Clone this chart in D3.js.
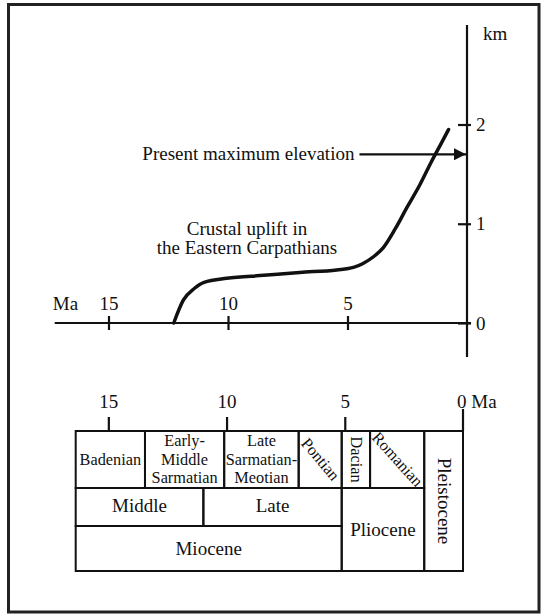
<!DOCTYPE html>
<html>
<head>
<meta charset="utf-8">
<script src="https://cdn.jsdelivr.net/npm/d3@7"></script>
<style>
  body { margin: 0; background: #fff; }
</style>
</head>
<body>
<div id="chart"></div>
<script>
// uplift curve (age in Ma, elevation in km)
var upliftAge  = [12.27, 11.87, 11.4, 11.0, 10.05, 8.5, 7.0, 5.45, 4.75, 4.35, 3.9, 3.5, 3.0, 2.5, 2.0, 1.5, 1.1, 0.77];
var upliftElev = [0.0,   0.23,  0.35, 0.41, 0.45, 0.48, 0.51, 0.535, 0.56, 0.60, 0.67, 0.76, 0.95, 1.17, 1.38, 1.62, 1.80, 1.95];

var ageTicks = [15, 10, 5];
var elevTicks = [0, 1, 2];
var presentMaxElev = 1.7;

// stratigraphic table
var stageNames = [["Badenian"], ["Early-", "Middle", "Sarmatian"], ["Late", "Sarmatian-", "Meotian"], ["Pontian"], ["Dacian"], ["Romanian"]];
var stageStart = [16.38, 13.45, 10.1, 6.95, 5.13, 3.93];
var stageEnd   = [13.45, 10.1, 6.95, 5.13, 3.93, 1.64];
var stageRotate = [0, 0, 0, 50, 90, 48];

var subNames = ["Middle", "Late"];
var subStart = [16.38, 10.98];
var subEnd   = [10.98, 5.13];

var epochNames = ["Miocene", "Pliocene", "Pleistocene"];
var epochStart = [16.38, 5.13, 1.64];
var epochEnd   = [5.13, 1.64, 0];
var epochRowFrom = [2, 1, 0];   // first row the epoch cell occupies
var tableTicks = [15, 10, 5];

var width = 541, height = 614;
var serif = "'Liberation Serif', 'Times New Roman', serif";
var ink = "#111";
var big = 19, small = 16.3;

var svg = d3.select("#chart")
  .append("svg")
    .attr("width", width)
    .attr("height", height);

// frame
svg.append("rect")
  .attr("x", 8.5).attr("y", 4.5)
  .attr("width", 530.5).attr("height", 607.5)
  .attr("fill", "none")
  .attr("stroke", "#222")
  .attr("stroke-width", 3);

// ---------- upper graph ----------
var x = d3.scaleLinear().domain([15, 0]).range([108.5, 467]);
var y = d3.scaleLinear().domain([0, 2]).range([323, 124.5]);

// x axis (ticks cross the line, labels above)
var xAxis = svg.append("g")
  .attr("transform", "translate(0," + y(0) + ")")
  .call(d3.axisTop(x).tickValues(ageTicks).tickSize(7).tickPadding(6).tickFormat(d3.format("d")));
xAxis.select(".domain").remove();
xAxis.append("line")
  .attr("x1", x(17.25)).attr("x2", x(-0.17))
  .attr("stroke", ink).attr("stroke-width", 2.2);
xAxis.selectAll(".tick line")
  .attr("y1", 7).attr("y2", -7)
  .attr("stroke", ink).attr("stroke-width", 2.2);
xAxis.selectAll(".tick text")
  .attr("font-size", big);

svg.append("text")
  .attr("x", x(16.8)).attr("y", y(0) - 13)
  .attr("text-anchor", "middle")
  .attr("font-size", big)
  .text("Ma");

// y axis
var yAxis = svg.append("g")
  .attr("transform", "translate(" + x(0) + ",0)")
  .call(d3.axisRight(y).tickValues(elevTicks).tickSize(4).tickPadding(5).tickFormat(d3.format("d")));
yAxis.select(".domain").remove();
yAxis.append("line")
  .attr("y1", 25).attr("y2", 357)
  .attr("stroke", ink).attr("stroke-width", 2.2);
yAxis.selectAll(".tick line")
  .attr("x1", -9).attr("x2", 4)
  .attr("stroke", ink).attr("stroke-width", 2.2);
yAxis.selectAll(".tick text")
  .attr("font-size", big);

svg.append("text")
  .attr("x", x(0) + 16).attr("y", 40)
  .attr("font-size", big)
  .text("km");

// uplift curve
var pts = upliftAge.map(function(a, i) { return [a, upliftElev[i]]; });
svg.append("path")
  .datum(pts)
  .attr("fill", "none")
  .attr("stroke", ink)
  .attr("stroke-width", 3.5)
  .attr("stroke-linecap", "round")
  .attr("d", d3.line()
    .x(function(d) { return x(d[0]); })
    .y(function(d) { return y(d[1]); })
    .curve(d3.curveMonotoneX));

// present maximum elevation arrow
svg.append("defs").append("marker")
  .attr("id", "arrow")
  .attr("viewBox", "0 0 10 10")
  .attr("refX", 10).attr("refY", 5)
  .attr("markerWidth", 18).attr("markerHeight", 12)
  .attr("markerUnits", "userSpaceOnUse")
  .attr("orient", "auto")
  .append("path")
    .attr("d", "M0,0 L10,5 L0,10 Z")
    .attr("fill", ink);

svg.append("line")
  .attr("x1", x(4.5)).attr("x2", x(0) - 1)
  .attr("y1", y(presentMaxElev)).attr("y2", y(presentMaxElev))
  .attr("stroke", ink).attr("stroke-width", 2.2)
  .attr("marker-end", "url(#arrow)");

svg.append("text")
  .attr("x", x(4.5) - 5).attr("y", y(presentMaxElev) + 5.5)
  .attr("text-anchor", "end")
  .attr("font-size", big)
  .text("Present maximum elevation");

var note = svg.append("text")
  .attr("x", 247).attr("y", 235)
  .attr("text-anchor", "middle")
  .attr("font-size", big);
note.append("tspan").attr("x", 247).text("Crustal uplift in");
note.append("tspan").attr("x", 247).attr("dy", 19).text("the Eastern Carpathians");

// ---------- stratigraphic table ----------
var tx = d3.scaleLinear().domain([16.38, 0]).range([75.7, 463]);
var rowY = [431, 488, 526, 571];

var tAxis = svg.append("g")
  .attr("transform", "translate(0," + rowY[0] + ")")
  .call(d3.axisTop(tx).tickValues(tableTicks).tickSize(14).tickPadding(9).tickFormat(d3.format("d")));
tAxis.select(".domain").remove();
tAxis.selectAll(".tick line").attr("stroke", ink).attr("stroke-width", 2.2);
tAxis.selectAll(".tick text").attr("font-size", big);

// 0 Ma mark: right edge of the table extends upward
svg.append("line")
  .attr("x1", tx(0)).attr("x2", tx(0))
  .attr("y1", 409).attr("y2", rowY[0])
  .attr("stroke", ink).attr("stroke-width", 2.2);
svg.append("text")
  .attr("x", tx(0) - 6).attr("y", 408)
  .attr("font-size", big)
  .text("0 Ma");

var table = svg.append("g")
  .attr("fill", "none")
  .attr("stroke", ink)
  .attr("stroke-width", 2);

function cell(a, b, r0, r1) {
  table.append("rect")
    .attr("x", tx(a)).attr("y", rowY[r0])
    .attr("width", tx(b) - tx(a))
    .attr("height", rowY[r1] - rowY[r0]);
}

stageNames.forEach(function(n, i) { cell(stageStart[i], stageEnd[i], 0, 1); });
subNames.forEach(function(n, i) { cell(subStart[i], subEnd[i], 1, 2); });
epochNames.forEach(function(n, i) { cell(epochStart[i], epochEnd[i], epochRowFrom[i], 3); });

// stage labels
stageNames.forEach(function(lines, i) {
  var cx = (tx(stageStart[i]) + tx(stageEnd[i])) / 2;
  var cy = (rowY[0] + rowY[1]) / 2;
  var t = svg.append("text")
    .attr("transform", "translate(" + cx + "," + cy + ") rotate(" + stageRotate[i] + ")")
    .attr("text-anchor", "middle")
    .attr("font-size", small);
  var lh = 18.5;
  lines.forEach(function(l, j) {
    t.append("tspan")
      .attr("x", 0)
      .attr("y", (j - (lines.length - 1) / 2) * lh + 5)
      .text(l);
  });
});

subNames.forEach(function(n, i) {
  svg.append("text")
    .attr("x", (tx(subStart[i]) + tx(subEnd[i])) / 2)
    .attr("y", (rowY[1] + rowY[2]) / 2 + 5)
    .attr("text-anchor", "middle")
    .attr("font-size", big)
    .text(n);
});

epochNames.forEach(function(n, i) {
  var cx = (tx(epochStart[i]) + tx(epochEnd[i])) / 2;
  var cy = (rowY[epochRowFrom[i]] + rowY[3]) / 2;
  svg.append("text")
    .attr("transform", "translate(" + cx + "," + cy + ")" + (n === "Pleistocene" ? " rotate(90)" : ""))
    .attr("y", 6)
    .attr("text-anchor", "middle")
    .attr("font-size", big)
    .text(n);
});

// serif font for every label
svg.selectAll("text")
  .style("font-family", serif)
  .attr("fill", ink);
</script>
</body>
</html>
